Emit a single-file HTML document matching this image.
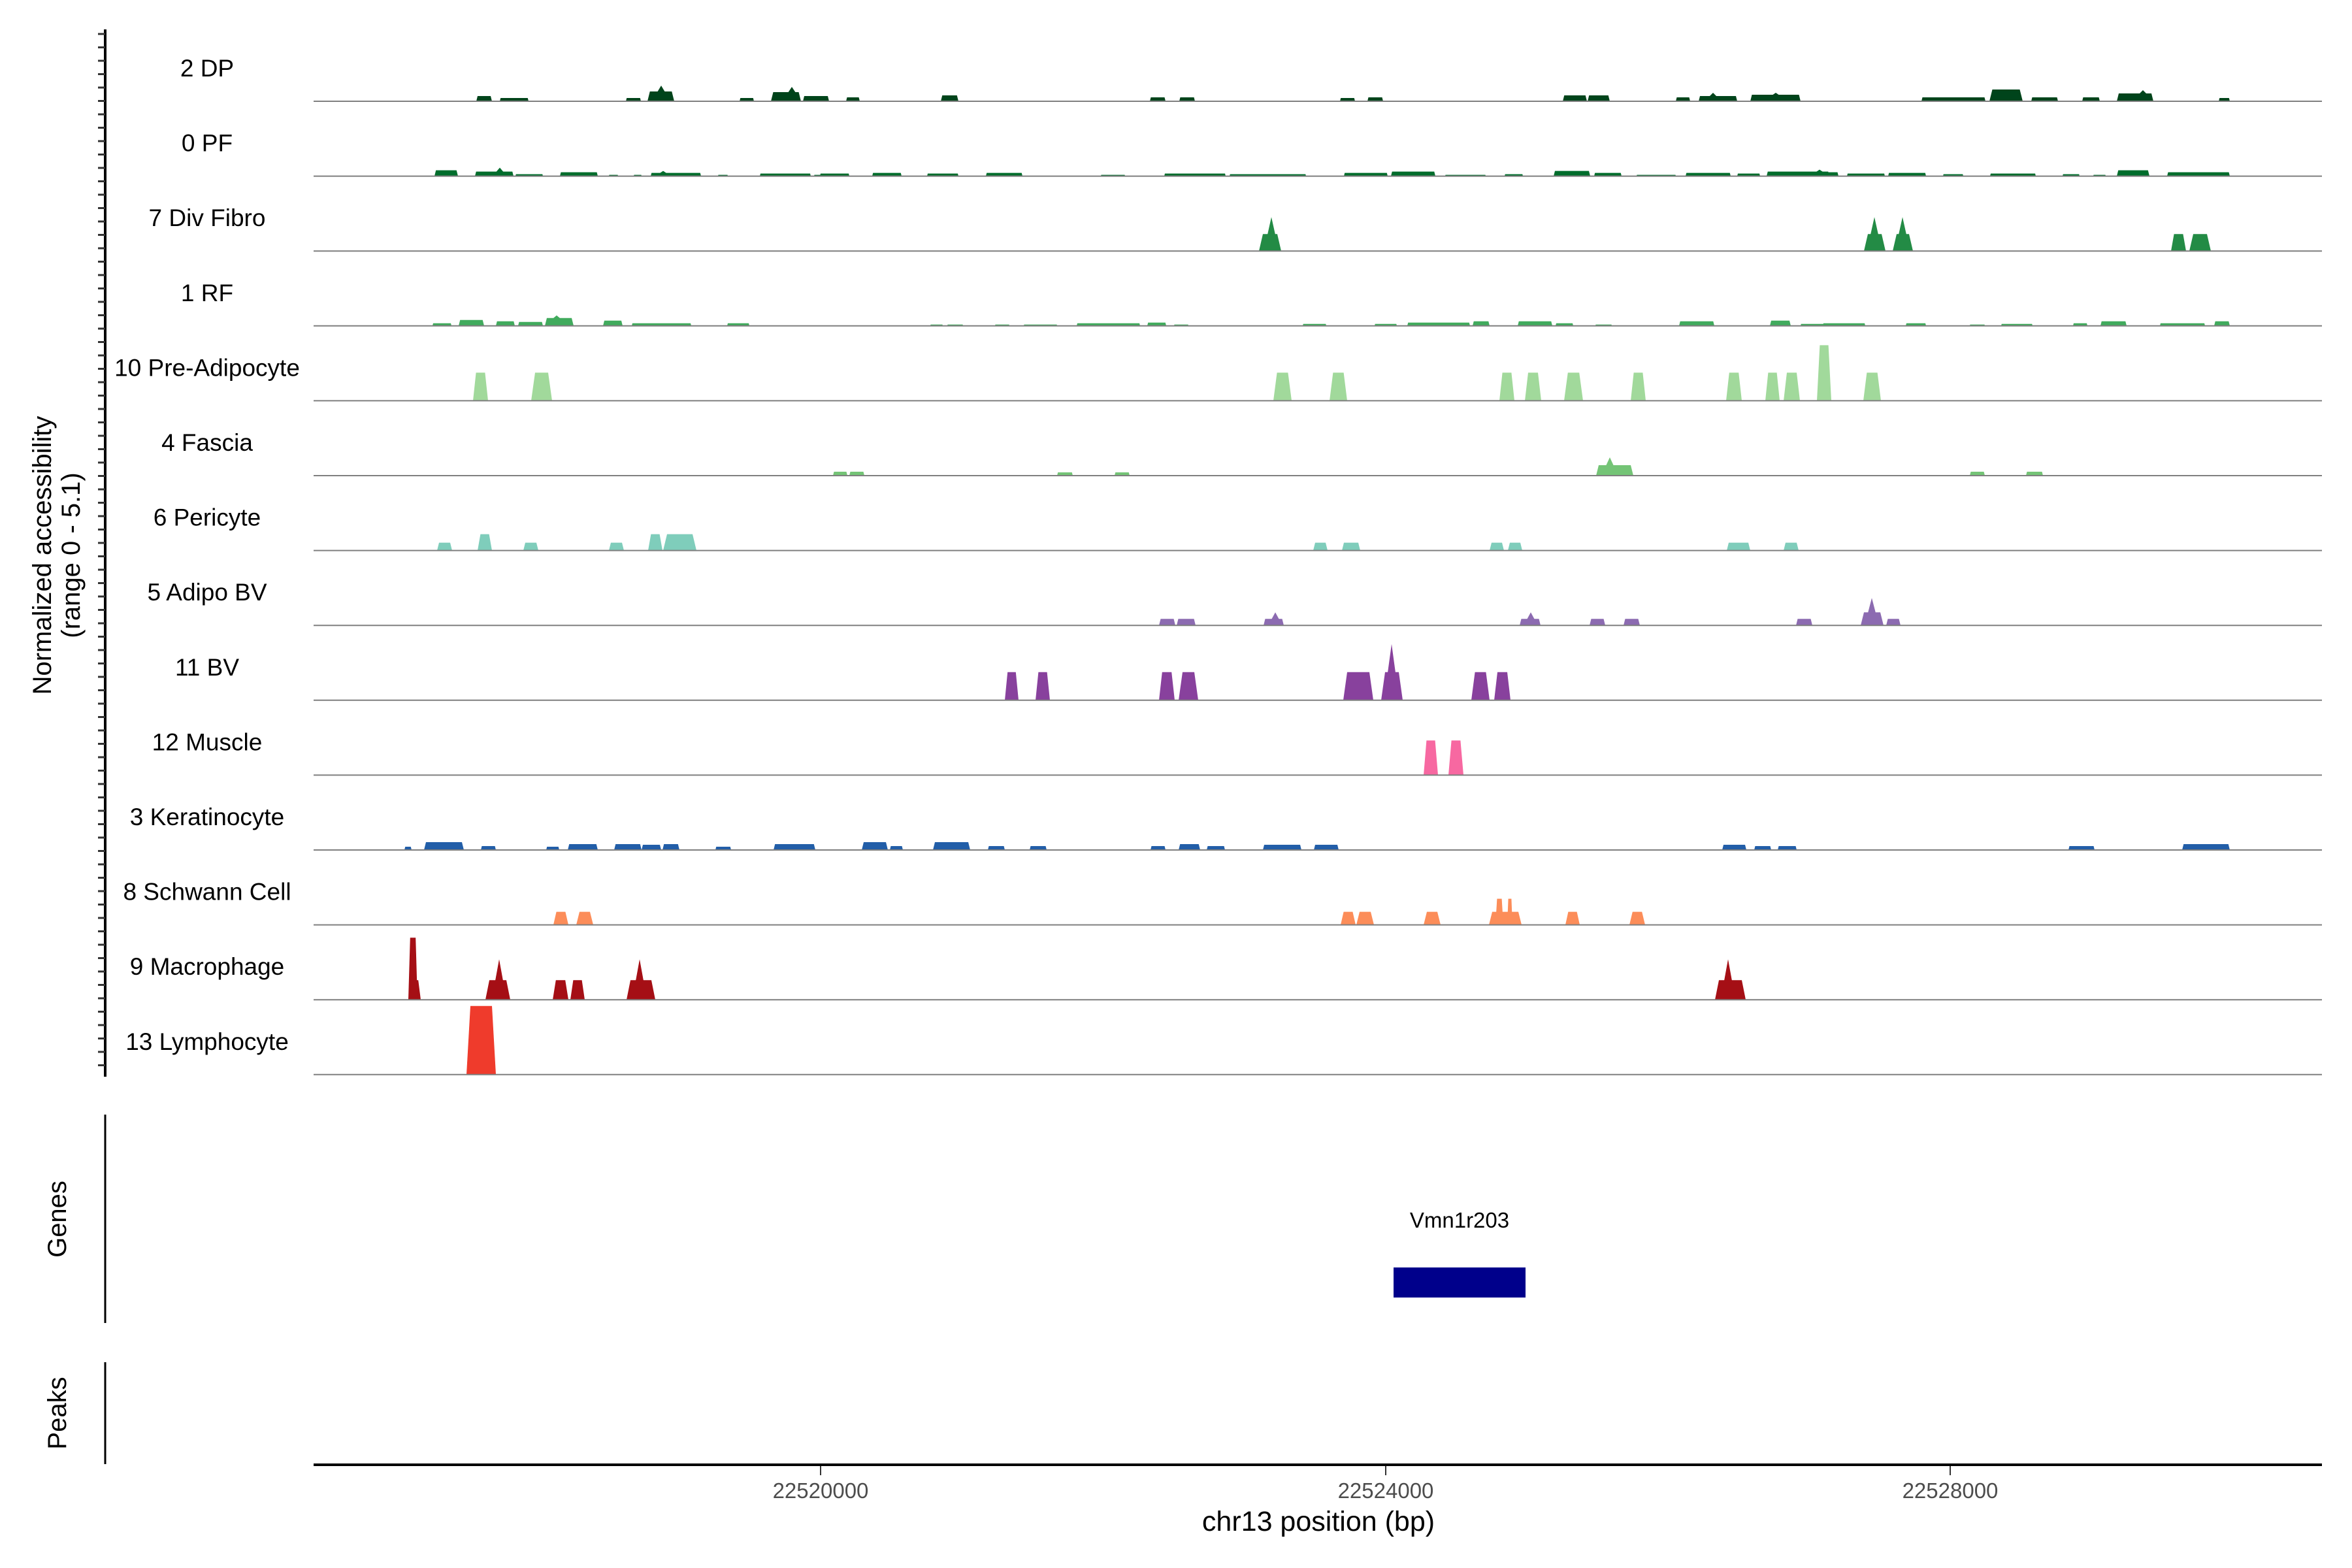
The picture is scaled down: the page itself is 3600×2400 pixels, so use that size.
<!DOCTYPE html>
<html><head><meta charset="utf-8"><style>
html,body{margin:0;padding:0;background:#fff;}
svg{display:block;}
text{font-family:"Liberation Sans",Arial,sans-serif;}
</style></head><body>
<svg id="s" width="3600" height="2400" viewBox="0 0 3600 2400" xmlns="http://www.w3.org/2000/svg">
<rect width="3600" height="2400" fill="#fff"/>
<g id="tracks"></g>
<g id="axis"></g>
<text transform="translate(78,850) rotate(-90)" text-anchor="middle" font-size="40" fill="#000">Normalized accessibility</text>
<text transform="translate(122,850) rotate(-90)" text-anchor="middle" font-size="40" fill="#000">(range 0 - 5.1)</text>
<line x1="161" y1="1706" x2="161" y2="2025" stroke="#000" stroke-width="3"/>
<text transform="translate(101,1866) rotate(-90)" text-anchor="middle" font-size="40" fill="#000">Genes</text>
<text x="2234" y="1879" text-anchor="middle" font-size="33" fill="#000">Vmn1r203</text>
<rect x="2133" y="1940" width="202" height="46" fill="#00008b"/>
<line x1="161" y1="2085" x2="161" y2="2241" stroke="#000" stroke-width="3"/>
<text transform="translate(101,2163) rotate(-90)" text-anchor="middle" font-size="40" fill="#000">Peaks</text>
<line x1="480" y1="2242" x2="3554" y2="2242" stroke="#000" stroke-width="4"/>
<g stroke="#333" stroke-width="2">
<line x1="1256" y1="2244" x2="1256" y2="2258"/>
<line x1="2121" y1="2244" x2="2121" y2="2258"/>
<line x1="2985" y1="2244" x2="2985" y2="2258"/>
</g>
<g font-size="33" fill="#4d4d4d" text-anchor="middle">
<text x="1256" y="2293">22520000</text>
<text x="2121" y="2293">22524000</text>
<text x="2985" y="2293">22528000</text>
</g>
<text x="2018" y="2343" text-anchor="middle" font-size="43" fill="#000">chr13 position (bp)</text>
</svg>
<script>
var NS="http://www.w3.org/2000/svg";
var T=[
["2 DP","#00441b",[[729,753,8],[765,809,5],[958,981,5],[991,1032,15,1012],[1132,1154,5],[1180,1226,14,1212,22],[1229,1260,8],[1250,1269,8],[1295,1316,6],[1440,1467,9],[1760,1784,6],[1805,1829,6],[2051,2074,5],[2093,2117,6],[2392,2429,9],[2430,2464,9],[2565,2587,6],[2600,2659,8,2622,13],[2679,2756,10,2718,13],[2941,3039,6],[3045,3096,18],[3109,3150,6],[3187,3214,6],[3240,3296,12,3280,17],[3396,3413,5]]],
["0 PF","#006d2c",[[665,701,9],[727,786,7,765,13],[789,831,3],[857,915,6],[932,946,2],[970,982,2],[996,1073,5,1015,8],[1099,1114,2],[1163,1241,4],[1246,1260,2],[1255,1300,4],[1335,1380,5],[1419,1467,4],[1509,1565,5],[1685,1722,2],[1782,1876,4],[1882,1999,3],[2057,2124,5],[2129,2197,7],[2212,2274,2],[2303,2331,3],[2378,2434,8],[2440,2482,5],[2505,2565,2],[2580,2649,5],[2659,2694,4],[2704,2800,7,2785,10],[2790,2814,6],[2827,2885,4],[2890,2948,5],[2974,3005,3],[3046,3116,4],[3157,3183,3],[3204,3223,2],[3240,3290,9],[3317,3413,6]]],
["7 Div Fibro","#238b45",[[1927,1961,26,1946,52],[2853,2886,26,2869,52],[2897,2928,26,2912,52],[3323,3346,26],[3351,3384,26]]],
["1 RF","#41ab5d",[[662,691,4],[702,741,9],[759,788,7],[793,831,6],[834,878,12,852,16],[923,953,8],[967,1058,4],[1113,1147,4],[1424,1443,2],[1450,1474,2],[1523,1545,2],[1567,1618,2],[1648,1745,4],[1756,1785,5],[1797,1819,2],[1994,2030,3],[2104,2138,3],[2154,2250,5],[2254,2280,7],[2323,2376,7],[2381,2408,4],[2442,2467,2],[2570,2624,7],[2709,2741,8],[2756,2800,3],[2790,2855,4],[2917,2948,4],[3015,3038,2],[3063,3111,3],[3173,3195,4],[3215,3255,7],[3306,3375,4],[3389,3413,7]]],
["10 Pre-Adipocyte","#a1d99b",[[724,747,43],[813,845,43],[1949,1977,43],[2035,2062,43],[2295,2318,43],[2334,2359,43],[2394,2423,43],[2496,2519,43],[2642,2666,43],[2702,2724,43],[2730,2755,43],[2781,2803,85],[2852,2879,43]]],
["4 Fascia","#74c476",[[1275,1297,6],[1300,1323,6],[1618,1642,5],[1706,1729,5],[2443,2500,16,2464,28],[3015,3038,6],[3101,3127,6]]],
["6 Pericyte","#7fcdbb",[[669,692,12],[731,753,25],[801,824,12],[932,955,12],[992,1014,25],[1015,1066,25],[2010,2032,12],[2054,2082,12],[2280,2302,12],[2308,2330,12],[2643,2679,12],[2730,2753,12]]],
["5 Adipo BV","#8c6bb1",[[1774,1799,10],[1801,1830,10],[1934,1965,10,1952,20],[2326,2358,10,2343,20],[2433,2457,10],[2485,2510,10],[2749,2774,10],[2848,2883,20,2865,42],[2887,2909,10]]],
["11 BV","#88419d",[[1538,1559,43],[1585,1607,43],[1774,1798,43],[1804,1834,43],[2056,2102,43],[2114,2147,43,2130,86],[2252,2280,43],[2287,2312,43]]],
["12 Muscle","#f768a1",[[2179,2201,53],[2217,2240,53]]],
["3 Keratinocyte","#225ea8",[[619,630,5],[649,710,12],[736,759,6],[836,856,5],[869,915,9],[940,982,9],[982,1012,8],[1014,1040,9],[1095,1119,5],[1184,1248,9],[1319,1359,12],[1362,1382,6],[1428,1485,12],[1512,1538,6],[1576,1602,6],[1761,1784,6],[1804,1837,9],[1847,1875,6],[1933,1992,8],[2011,2049,8],[2636,2673,8],[2685,2711,6],[2721,2750,6],[3166,3206,6],[3340,3413,9]]],
["8 Schwann Cell","#fc8d59",[[847,870,20],[882,908,20],[2052,2075,20],[2076,2103,20],[2179,2205,20],[2279,2329,20],[2289,2301,40],[2307,2315,40],[2396,2418,20],[2494,2518,20]]],
["9 Macrophage","#a50f15",[[625,644,30],[625,639,95],[743,781,30,764,62],[846,870,30],[873,895,30],[959,1003,30,979,62],[2625,2672,30,2645,62]]],
["13 Lymphocyte","#ef3b2c",[[714,759,105]]]
];
var g=document.getElementById("tracks"),ax=document.getElementById("axis");
function el(n,a,p){var e=document.createElementNS(NS,n);for(var k in a)e.setAttribute(k,a[k]);(p||g).appendChild(e);return e;}
for(var i=0;i<T.length;i++){
  var b=155+114.6*i,t=T[i];
  var tx=el("text",{x:317,y:b-38,"text-anchor":"middle","font-size":"37",fill:"#000"});tx.textContent=t[0];
  t[2].forEach(function(p){
    var x0=p[0],x1=p[1],h=p[2],d=Math.min(h*0.25,(x1-x0)/5,6);
    var pts=[[x0,b],[x0+d,b-h],[x1-d,b-h],[x1,b]];
    el("polygon",{points:pts.map(function(q){return q.join(",")}).join(" "),fill:t[1]});
    if(p.length>3){var c=p[3],H=p[4]||h*1.6;
      el("polygon",{points:(c-6)+","+(b-h+1)+" "+c+","+(b-H)+" "+(c+6)+","+(b-h+1),fill:t[1]});}
  });
  el("line",{x1:480,y1:b,x2:3554,y2:b,stroke:"#7f7f7f","stroke-width":"2"});
}
el("line",{x1:161,y1:45,x2:161,y2:1648,stroke:"#000","stroke-width":"4"},ax);
for(var y=52;y<=1648;y+=20.5){el("line",{x1:150,y1:y,x2:161,y2:y,stroke:"#333","stroke-width":"3"},ax);}
</script>
</body></html>
